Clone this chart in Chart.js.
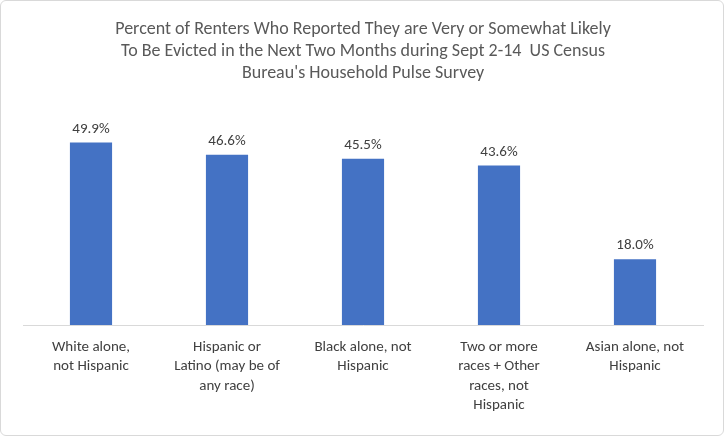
<!DOCTYPE html>
<html>
<head>
<meta charset="utf-8">
<script src="https://cdn.jsdelivr.net/npm/chart.js@4"></script>
<style>
  html, body { margin: 0; padding: 0; background: #fff; }
  #wrap { position: relative; width: 722px; height: 434px; border: 1px solid #d9d9d9; border-radius: 6px; }
</style>
</head>
<body>
<div id="wrap"><canvas id="chart"></canvas></div>
<script>
// ---------------- data
const categories = [
  ["White alone,", "not Hispanic"],
  ["Hispanic or", "Latino (may be of", "any race)"],
  ["Black alone, not", "Hispanic"],
  ["Two or more", "races + Other", "races, not", "Hispanic"],
  ["Asian alone, not", "Hispanic"]
];
const values = [49.9, 46.6, 45.5, 43.6, 18.0];
const titleLines = [
  "Percent of Renters Who Reported They are Very or Somewhat Likely",
  "To Be Evicted in the Next Two Months during Sept 2-14  US Census",
  "Bureau's Household Pulse Survey"
];

// ---------------- value labels above bars
const valueLabels = {
  id: "valueLabels",
  afterDatasetsDraw(chart) {
    const ctx = chart.ctx;
    const meta = chart.getDatasetMeta(0);
    ctx.save();
    ctx.font = "15px Carlito, Calibri, 'Liberation Sans', sans-serif";
    ctx.fillStyle = "#404040";
    ctx.textAlign = "center";
    ctx.textBaseline = "bottom";
    meta.data.forEach((bar, i) => {
      ctx.fillText(values[i].toFixed(1) + "%", bar.x, bar.y - 6);
    });
    ctx.restore();
  }
};

new Chart(document.getElementById("chart"), {
  type: "bar",
  data: {
    labels: categories,
    datasets: [{
      data: values,
      backgroundColor: "#4472C4",
      categoryPercentage: 1,
      barPercentage: 0.31
    }]
  },
  options: {
    responsive: true,
    maintainAspectRatio: false,
    animation: false,
    layout: { padding: { left: 22, right: 20, top: 10, bottom: 8 } },
    plugins: {
      legend: { display: false },
      tooltip: { enabled: false },
      title: {
        display: true,
        text: titleLines,
        color: "#595959",
        font: { size: 18, family: "Carlito, Calibri, 'Liberation Sans', sans-serif", weight: "normal" },
        padding: { top: 8, bottom: 16 },
        lineHeight: 1.4
      }
    },
    scales: {
      x: {
        grid: { display: false, drawTicks: false },
        border: { color: "#d9d9d9" },
        ticks: {
          color: "#404040",
          padding: 12,
          maxRotation: 0,
          autoSkip: false,
          font: { size: 15, family: "Carlito, Calibri, 'Liberation Sans', sans-serif", lineHeight: 1.3 }
        }
      },
      y: {
        display: false,
        min: 0,
        max: 61.6
      }
    }
  },
  plugins: [valueLabels]
});
</script>
</body>
</html>
